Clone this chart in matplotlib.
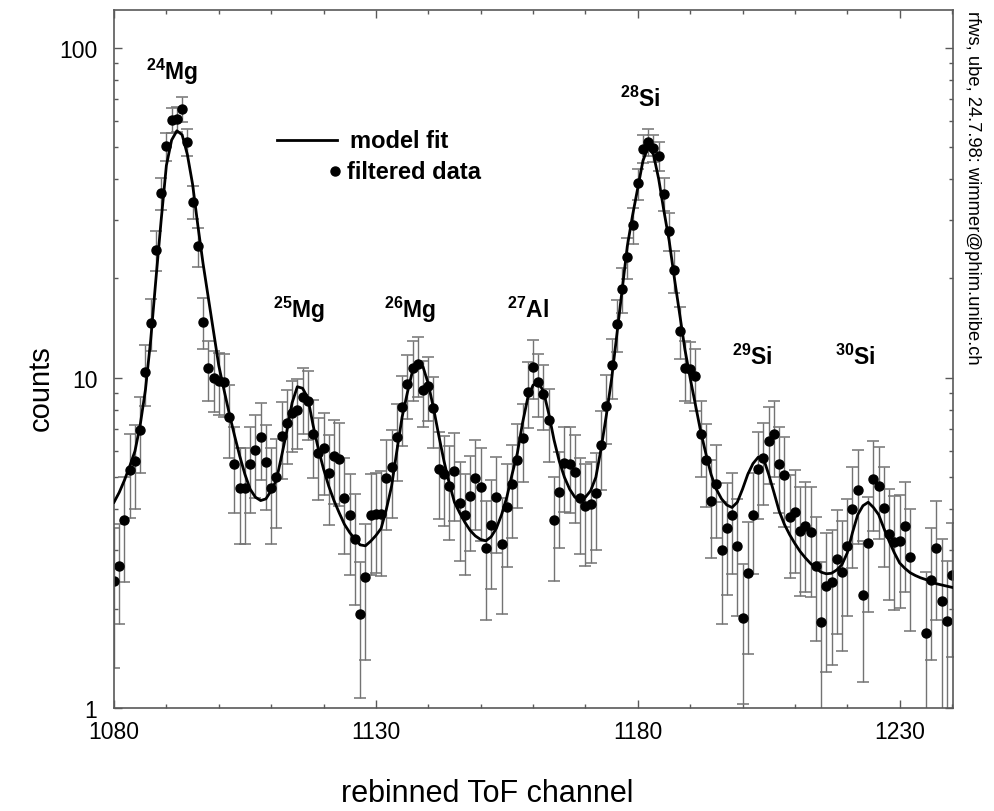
import numpy as np
import matplotlib
matplotlib.use("Agg")
import matplotlib.pyplot as plt
from matplotlib.ticker import MultipleLocator, LogLocator, NullFormatter

plt.rcParams['font.family'] = ['Liberation Sans', 'DejaVu Sans']
plt.rcParams['mathtext.fontset'] = 'custom'
plt.rcParams['mathtext.rm'] = 'Liberation Sans:bold'

# rebinned ToF channels 1080..1240
channel = np.arange(1080, 1241)

# filtered data (counts), nan where no point is shown
counts = [
    2.42, 2.70, 3.71, 5.27, 5.6, 6.95, 10.4, 14.7, 24.4, 36.3,      # 1080
    50.2, 60.4, 60.9, 65.2, 51.9, 34.2, 25.0, 14.8, 10.7, 10.0,     # 1090
    9.8, 9.7, 7.6, 5.5, 4.64, 4.64, 5.5, 6.03, 6.64, 5.58,          # 1100
    4.63, 5.02, 6.68, 7.32, 7.85, 8.0, 8.74, 8.48, 6.77, 5.93,      # 1110
    6.12, 5.14, 5.79, 5.68, 4.32, 3.83, 3.25, 1.92, 2.50, 3.83,     # 1120
    3.86, 3.87, 4.97, 5.36, 6.61, 8.15, 9.59, 10.7, 11.0, 9.16,     # 1130
    9.48, 8.09, 5.30, 5.12, 4.72, 5.24, 4.18, 3.83, 4.38, 4.97,     # 1140
    4.66, 3.05, 3.59, 4.35, 3.13, 4.07, 4.77, 5.64, 6.58, 9.09,     # 1150
    10.8, 9.70, 8.95, 7.43, 3.72, 4.50, 5.52, 5.49, 5.18, 4.32,     # 1160
    4.10, 4.15, 4.47, 6.26, 8.24, 10.9, 14.6, 18.6, 23.2, 29.1,     # 1170
    38.8, 49.4, 51.8, 49.7, 47.1, 36.1, 27.9, 21.2, 13.9, 10.7,     # 1180
    10.6, 10.1, 6.75, 5.65, 4.25, 4.78, 3.0, 3.5, 3.85, 3.10,       # 1190
    1.88, 2.56, 3.85, 5.3, 5.72, 6.46, 6.76, 5.5, 5.08, 3.78,       # 1200
    3.92, 3.43, 3.55, 3.42, 2.70, 1.82, 2.34, 2.40, 2.83, 2.59,     # 1210
    3.10, 4.01, 4.58, 2.20, 3.16, 4.94, 4.71, 4.03, 3.37, 3.18,     # 1220
    3.21, 3.55, 2.86, np.nan, np.nan, 1.69, 2.45, 3.05, 2.11, 1.84, # 1230
    2.53,                                                           # 1240
]

errors = [
    1.1, 0.9, 1.3, 1.5, 1.6, 1.8, 2.2, 2.6, 3.4, 4.1,
    4.8, 5.3, 5.3, 5.7, 4.9, 4.0, 3.4, 2.6, 2.2, 2.1,
    2.1, 2.1, 1.9, 1.6, 1.5, 1.5, 1.6, 1.7, 1.75, 1.6,
    1.5, 1.5, 1.75, 1.85, 1.9, 1.9, 2.0, 2.0, 1.8, 1.65,
    1.7, 1.55, 1.65, 1.6, 1.4, 1.3, 1.2, 0.85, 1.1, 1.3,
    1.3, 1.35, 1.5, 1.6, 1.75, 1.95, 2.1, 2.2, 2.25, 2.05,
    2.1, 1.95, 1.55, 1.55, 1.5, 1.55, 1.4, 1.3, 1.4, 1.5,
    1.45, 1.2, 1.3, 1.4, 1.2, 1.4, 1.5, 1.6, 1.75, 2.05,
    2.2, 2.1, 2.0, 1.85, 1.3, 1.45, 1.6, 1.6, 1.55, 1.4,
    1.4, 1.4, 1.45, 1.7, 1.95, 2.25, 2.6, 2.9, 3.3, 3.7,
    4.2, 4.8, 4.9, 4.8, 4.7, 4.1, 3.6, 3.1, 2.5, 2.2,
    2.2, 2.15, 1.75, 1.6, 1.4, 1.5, 1.2, 1.3, 1.3, 1.2,
    0.85, 1.1, 1.3, 1.55, 1.6, 1.7, 1.75, 1.6, 1.55, 1.3,
    1.35, 1.25, 1.3, 1.25, 1.1, 0.95, 1.05, 1.05, 1.15, 1.1,
    1.2, 1.35, 1.45, 1.0, 1.2, 1.5, 1.45, 1.35, 1.25, 1.2,
    1.2, 1.3, 1.15, np.nan, np.nan, 0.9, 1.05, 1.2, 1.15, 0.95,
    1.1,
]

# model fit at each channel
model = [
    4.2, 4.5, 4.9, 5.4, 6.0, 7.2, 9.2, 13.0, 19.9, 30.0,
    44.0, 52.5, 56.0, 54.5, 47.5, 38.6, 29.0, 22.2, 17.5, 13.8,
    10.9, 9.2, 7.8, 6.7, 5.8, 5.1, 4.6, 4.35, 4.25, 4.3,
    4.55, 4.9, 5.8, 6.9, 8.4, 9.4, 9.3, 8.7, 7.2, 6.1,
    5.3, 4.7, 4.25, 3.9, 3.6, 3.4, 3.25, 3.12, 3.10, 3.2,
    3.33, 3.5, 4.0, 4.7, 6.0, 7.6, 9.0, 10.5, 11.1, 10.8,
    9.6, 8.1, 6.7, 5.6, 4.8, 4.2, 3.9, 3.65, 3.45, 3.32,
    3.24, 3.21, 3.3, 3.5, 3.85, 4.35, 5.1, 5.9, 7.3, 8.7,
    9.5, 9.7, 9.1, 7.8, 6.5, 5.6, 5.0, 4.6, 4.35, 4.27,
    4.35, 4.55, 5.0, 6.1, 7.7, 9.9, 13.5, 18.5, 25.0, 31.0,
    37.5, 45.5, 50.0, 47.5, 40.0, 32.0, 26.0, 20.0, 15.6, 12.2,
    10.0, 8.3, 6.9, 5.9, 5.1, 4.6, 4.3, 4.12, 4.05, 4.2,
    4.6, 5.1, 5.5, 5.75, 5.7, 5.1, 4.5, 3.95, 3.6, 3.35,
    3.15, 2.98, 2.85, 2.74, 2.65, 2.58, 2.55, 2.56, 2.62, 2.72,
    2.95, 3.4, 3.85, 4.1, 4.2, 4.05, 3.85, 3.5, 3.2, 2.95,
    2.75, 2.65, 2.57, 2.52, 2.48, 2.45, 2.42, 2.38, 2.36, 2.34,
    2.32,
]

isotopes = [r'$^{24}$Mg', r'$^{25}$Mg', r'$^{26}$Mg', r'$^{27}$Al',
            r'$^{28}$Si', r'$^{29}$Si', r'$^{30}$Si']
label_x = [1086.2, 1110.3, 1131.5, 1155.1, 1176.6, 1197.9, 1217.6]
label_y = [80.5, 15.3, 15.3, 15.3, 66.7, 11.0, 11.0]

fig = plt.figure(figsize=(9.94, 8.12), dpi=100)
ax = fig.add_axes([0.1147, 0.1268, 0.8441, 0.8596])

pl, caps, bars = ax.errorbar(channel, counts, yerr=errors, fmt='o', color='black',
                             ms=6.5, ecolor='0.45', elinewidth=1.0,
                             capsize=4, capthick=1.1, zorder=2)
for c in caps:
    c.set_color('black')
ax.plot(channel, model, color='black', lw=2.0, zorder=3)

ax.set_yscale('log')
ax.set_xlim(1080, 1240.2)
ax.set_ylim(1, 130)
ax.set_xticks([1080, 1130, 1180, 1230])
ax.xaxis.set_minor_locator(MultipleLocator(10))
ax.set_yticks([1, 10, 100])
ax.set_yticklabels(['1', '10', '100'])
ax.yaxis.set_minor_locator(LogLocator(base=10, subs=np.arange(2, 10)))
ax.yaxis.set_minor_formatter(NullFormatter())

ax.tick_params(which='both', direction='in', top=True, right=True,
               colors='0.35', labelcolor='black', labelsize=16.5)
ax.tick_params(which='major', length=6, width=1)
ax.tick_params(which='minor', length=3, width=1)
ax.tick_params(axis='x', pad=8.5)
ax.tick_params(axis='y', pad=12)
for s in ax.spines.values():
    s.set_color('0.35')
    s.set_linewidth(1.2)

for lab, lx, ly in zip(isotopes, label_x, label_y):
    ax.text(lx, ly, lab, fontsize=16.5, fontweight='bold', ha='left', va='baseline')

# legend
ax.plot([0.1943, 0.2658], [0.8138, 0.8138], color='black', lw=2.0,
        transform=ax.transAxes)
ax.text(0.2813, 0.8138, 'model fit', fontsize=17, fontweight='bold',
        va='center', ha='left', transform=ax.transAxes)
ax.plot([0.2634], [0.7693], 'o', color='black', ms=6.5, transform=ax.transAxes)
ax.text(0.2777, 0.7693, 'filtered data', fontsize=17, fontweight='bold',
        va='center', ha='left', transform=ax.transAxes)

fig.text(487 / 994, 10 / 812, 'rebinned ToF channel', fontsize=22,
         ha='center', va='baseline')
fig.text(41 / 994, 1 - 388 / 812, 'counts', fontsize=21, rotation=90,
         ha='center', va='center')
fig.text(972 / 994, 1 - 11 / 812, 'rfws, ube, 24.7.98: wimmer@phim.unibe.ch',
         fontsize=13.2, rotation=270, ha='center', va='top')

fig.savefig('out.png', dpi=100)
